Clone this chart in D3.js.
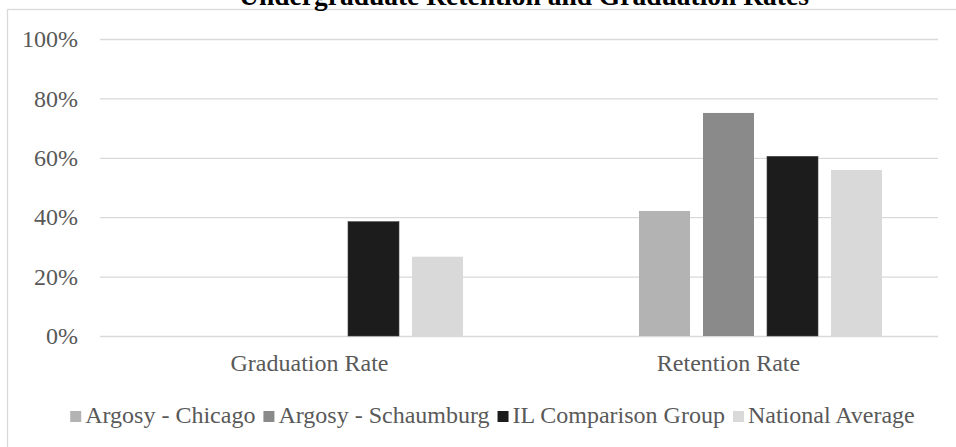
<!DOCTYPE html>
<html>
<head>
<meta charset="utf-8">
<style>
  body { margin: 0; background: #fff; }
  svg { display: block; font-family: 'Liberation Serif', 'Times New Roman', serif; }
  .grid line { stroke: #d9d9d9; stroke-width: 1.3; }
  .grid .domain { display: none; }
  .y text { font-family: 'Liberation Serif', 'Times New Roman', serif; font-size: 24px; fill: #595959; }
  .x .domain, .x line { display: none; }
  .x text { font-family: 'Liberation Serif', 'Times New Roman', serif; font-size: 24px; fill: #595959; }
</style>
</head>
<body>
<svg width="956" height="447"></svg>
<script src="https://d3js.org/d3.v7.min.js"></script>
<script>
  // data
  const categories = ["Graduation Rate", "Retention Rate"];
  const seriesNames = ["Argosy - Chicago", "Argosy - Schaumburg", "IL Comparison Group", "National Average"];
  const chicago = [null, 42.1];
  const schaumburg = [null, 75.1];
  const ilGroup = [38.5, 60.5];
  const national = [26.7, 55.9];
  const yTicks = [0, 20, 40, 60, 80, 100];
  const colors = ["#b3b3b3", "#8a8a8a", "#1c1c1c", "#d9d9d9"];

  const seriesValues = [chicago, schaumburg, ilGroup, national];

  const svg = d3.select("svg");
  const margin = { top: 39, right: 18, bottom: 111, left: 100 };
  const width = 956, height = 447;

  // chart frame (runs off the right and bottom edges)
  svg.append("rect")
    .attr("x", 7.5).attr("y", 9.5)
    .attr("width", 1000).attr("height", 500)
    .attr("fill", "none").attr("stroke", "#d9d9d9").attr("stroke-width", 1.3);

  // title, cut off at the top like the source
  svg.append("text")
    .attr("x", 524).attr("y", 5)
    .attr("text-anchor", "middle")
    .style("font-size", "27.5px").style("font-weight", "bold").style("fill", "#000")
    .text("Undergraduate Retention and Graduation Rates");

  const x0 = d3.scaleBand()
    .domain(categories)
    .range([margin.left, width - margin.right])
    .padding(0);

  // first slot is an empty series in the source chart
  const x1 = d3.scaleBand()
    .domain(["_empty"].concat(seriesNames))
    .range([0, x0.bandwidth()])
    .paddingInner(0.203)
    .paddingOuter(0.875);

  const y = d3.scaleLinear()
    .domain([0, 100])
    .range([height - margin.bottom, margin.top]);

  // gridlines + tick labels
  svg.append("g")
    .attr("class", "grid y")
    .attr("transform", `translate(${margin.left},0)`)
    .call(d3.axisLeft(y)
      .tickValues(yTicks)
      .tickSize(-(width - margin.left - margin.right))
      .tickPadding(22)
      .tickFormat(d => d + "%"));

  // bars
  const rows = [];
  categories.forEach((c, i) => {
    seriesNames.forEach((s, j) => {
      if (seriesValues[j][i] != null) rows.push({ cat: c, series: s, value: seriesValues[j][i], idx: j });
    });
  });

  svg.append("g")
    .selectAll("rect")
    .data(rows)
    .join("rect")
    .attr("x", d => x0(d.cat) + x1(d.series))
    .attr("y", d => y(d.value))
    .attr("width", x1.bandwidth())
    .attr("height", d => y(0) - y(d.value))
    .attr("fill", d => colors[d.idx])
    .attr("stroke", d => d.idx === 2 ? "#444" : "none")
    .attr("stroke-width", 0.6);

  // category axis
  svg.append("g")
    .attr("class", "x")
    .attr("transform", `translate(0,${y(0)})`)
    .call(d3.axisBottom(x0).tickSize(0).tickPadding(18));

  // legend
  const legend = svg.append("g").attr("transform", "translate(0,423)");
  const items = legend.selectAll("g")
    .data(seriesNames)
    .join("g");
  items.append("rect")
    .attr("y", -12).attr("width", 11).attr("height", 11)
    .attr("fill", (d, i) => colors[i]);
  items.append("text")
    .attr("x", 15)
    .style("font-size", "24px").style("fill", "#595959")
    .text(d => d);

  let cx = 0;
  const offsets = [];
  items.each(function () {
    offsets.push(cx);
    const w = d3.select(this).select("text").node().getComputedTextLength();
    cx += 15 + w + 8;
  });
  const total = cx - 8;
  const start = 492.5 - total / 2;
  items.attr("transform", (d, i) => `translate(${start + offsets[i]},0)`);
</script>
</body>
</html>
